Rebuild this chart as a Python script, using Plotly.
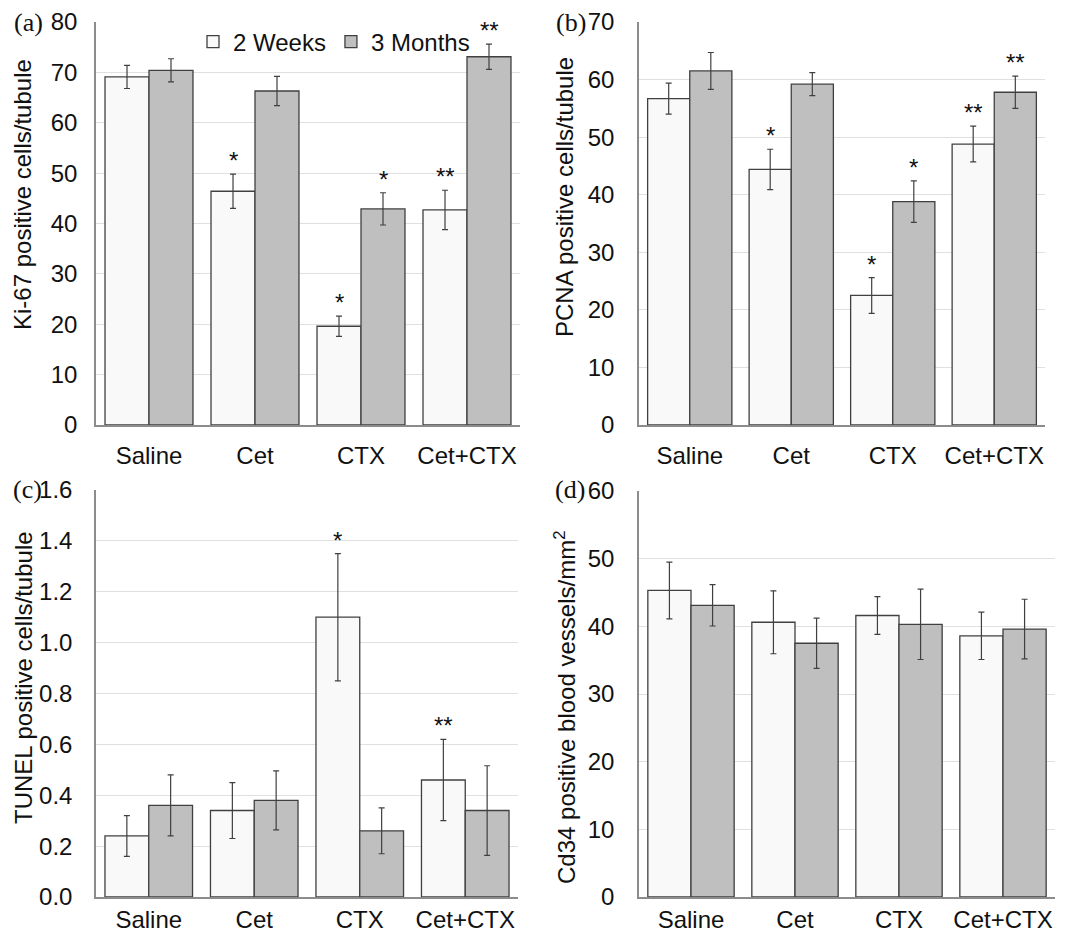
import plotly.graph_objects as go

categories = ["Saline", "Cet", "CTX", "Cet+CTX"]
series_names = ["2 Weeks", "3 Months"]

# Panel (a) Ki-67
ki67_2w = [69.1, 46.4, 19.6, 42.7]
ki67_2w_err = [2.3, 3.4, 2.0, 3.9]
ki67_3m = [70.4, 66.3, 42.9, 73.1]
ki67_3m_err = [2.3, 2.9, 3.2, 2.5]
ki67_2w_sig = ["", "*", "*", "**"]
ki67_3m_sig = ["", "", "*", "**"]

# Panel (b) PCNA
pcna_2w = [56.7, 44.4, 22.5, 48.8]
pcna_2w_err = [2.7, 3.5, 3.1, 3.1]
pcna_3m = [61.5, 59.2, 38.8, 57.8]
pcna_3m_err = [3.2, 2.0, 3.6, 2.8]
pcna_2w_sig = ["", "*", "*", "**"]
pcna_3m_sig = ["", "", "*", "**"]

# Panel (c) TUNEL
tunel_2w = [0.24, 0.34, 1.10, 0.46]
tunel_2w_err = [0.08, 0.11, 0.25, 0.16]
tunel_3m = [0.36, 0.38, 0.26, 0.34]
tunel_3m_err = [0.12, 0.116, 0.09, 0.176]
tunel_2w_sig = ["", "", "*", "**"]
tunel_3m_sig = ["", "", "", ""]

# Panel (d) Cd34
cd34_2w = [45.3, 40.6, 41.6, 38.6]
cd34_2w_err = [4.2, 4.65, 2.8, 3.5]
cd34_3m = [43.1, 37.5, 40.3, 39.6]
cd34_3m_err = [3.05, 3.7, 5.2, 4.4]
cd34_2w_sig = ["", "", "", ""]
cd34_3m_sig = ["", "", "", ""]

panel_labels = ["(a)", "(b)", "(c)", "(d)"]
y_titles = ["Ki-67 positive cells/tubule", "PCNA positive cells/tubule",
            "TUNEL positive cells/tubule", "Cd34 positive blood vessels/mm<sup>2</sup>"]
y_ranges = [[0, 80], [0, 70], [0, 1.6], [0, 60]]
y_dticks = [10, 10, 0.2, 10]
y_formats = ["d", "d", ".1f", "d"]

W, H = 1072, 938
FILL_2W = "#f9f9f9"
FILL_3M = "#bfbfbf"
EDGE = "#404040"
SANS = "Liberation Sans, Arial, sans-serif"
SERIF = "Liberation Serif, Times New Roman, serif"

panels = [
    (ki67_2w, ki67_2w_err, ki67_3m, ki67_3m_err, ki67_2w_sig, ki67_3m_sig),
    (pcna_2w, pcna_2w_err, pcna_3m, pcna_3m_err, pcna_2w_sig, pcna_3m_sig),
    (tunel_2w, tunel_2w_err, tunel_3m, tunel_3m_err, tunel_2w_sig, tunel_3m_sig),
    (cd34_2w, cd34_2w_err, cd34_3m, cd34_3m_err, cd34_2w_sig, cd34_3m_sig),
]

# pixel layout of each plot area: (left, right, top, bottom)
boxes = [(96, 520, 22, 425), (639, 1045, 22, 425), (96, 518, 490, 897), (639, 1055, 491, 897)]
label_pos = [(29, 22), (571, 22), (27, 489), (570, 490)]
title_pos = [(23, 195), (564, 197), (23, 678), (565, 707)]
ytick_standoff = [12, 18, 17, 18]
xtick_standoff = [8, 8, 0, 0]
BARGAP = 0.17

fig = go.Figure()
annotations = []
for i, (v2, e2, v3, e3, s2, s3) in enumerate(panels):
    n = "" if i == 0 else str(i + 1)
    xa, ya = "x" + n, "y" + n
    for name, vals, errs, fill in [(series_names[0], v2, e2, FILL_2W), (series_names[1], v3, e3, FILL_3M)]:
        fig.add_trace(go.Bar(
            x=categories, y=vals, name=name, xaxis=xa, yaxis=ya,
            marker=dict(color=fill, line=dict(color=EDGE, width=1.3)),
            error_y=dict(type="data", array=errs, color=EDGE, thickness=1.2, width=3),
            showlegend=(i == 0), legendgroup=name,
        ))
    l, r, t, b = boxes[i]
    fig.layout["xaxis" + n] = dict(
        domain=[l / W, r / W], anchor=ya, type="category", automargin=False,
        showgrid=False, showline=True, linecolor="#8c8c8c", linewidth=1.5,
        ticks="", tickfont=dict(family=SANS, size=24, color="#111"),
        ticklabelstandoff=xtick_standoff[i], fixedrange=True,
    )
    fig.layout["yaxis" + n] = dict(
        domain=[1 - b / H, 1 - t / H], anchor=xa, range=y_ranges[i], dtick=y_dticks[i],
        tickformat=y_formats[i], showgrid=True, gridcolor="#e0e0e0", gridwidth=1,
        showline=True, linecolor="#8c8c8c", linewidth=1.5, zeroline=False, automargin=False,
        ticks="", tickfont=dict(family=SANS, size=24, color="#111"),
        ticklabelstandoff=ytick_standoff[i], fixedrange=True,
    )
    off = (1 - BARGAP) / 4
    for j in range(len(categories)):
        for sig, vals, errs, sgn in [(s2, v2, e2, -1), (s3, v3, e3, 1)]:
            if sig[j]:
                annotations.append(dict(
                    x=j + sgn * off, y=vals[j] + errs[j], xref=xa, yref=ya,
                    text=sig[j], showarrow=False, yanchor="bottom", yshift=-2,
                    font=dict(family=SANS, size=24, color="#111"),
                ))
    px_, py_ = label_pos[i]
    annotations.append(dict(x=px_ / W, y=1 - py_ / H, xref="paper", yref="paper",
                            text=panel_labels[i], showarrow=False,
                            font=dict(family=SERIF, size=26, color="#111"),
                            xanchor="center", yanchor="middle"))
    tx, ty = title_pos[i]
    annotations.append(dict(x=tx / W, y=1 - ty / H, xref="paper", yref="paper",
                            text=y_titles[i], showarrow=False, textangle=-90,
                            font=dict(family=SANS, size=24, color="#111"),
                            xanchor="center", yanchor="middle"))

fig.update_layout(
    template="none",
    width=W, height=H, margin=dict(l=0, r=0, t=0, b=0, pad=0),
    paper_bgcolor="white", plot_bgcolor="white",
    barmode="group", bargap=BARGAP, bargroupgap=0,
    annotations=annotations,
    legend=dict(orientation="h", x=193 / W, y=1 - 42 / H, xanchor="left", yanchor="middle",
                bgcolor="rgba(0,0,0,0)", font=dict(family=SANS, size=24, color="#111"),
                itemwidth=30),
)
fig.write_html("out.html", config={"displayModeBar": False},
               post_script="document.body.style.margin='0px';")
